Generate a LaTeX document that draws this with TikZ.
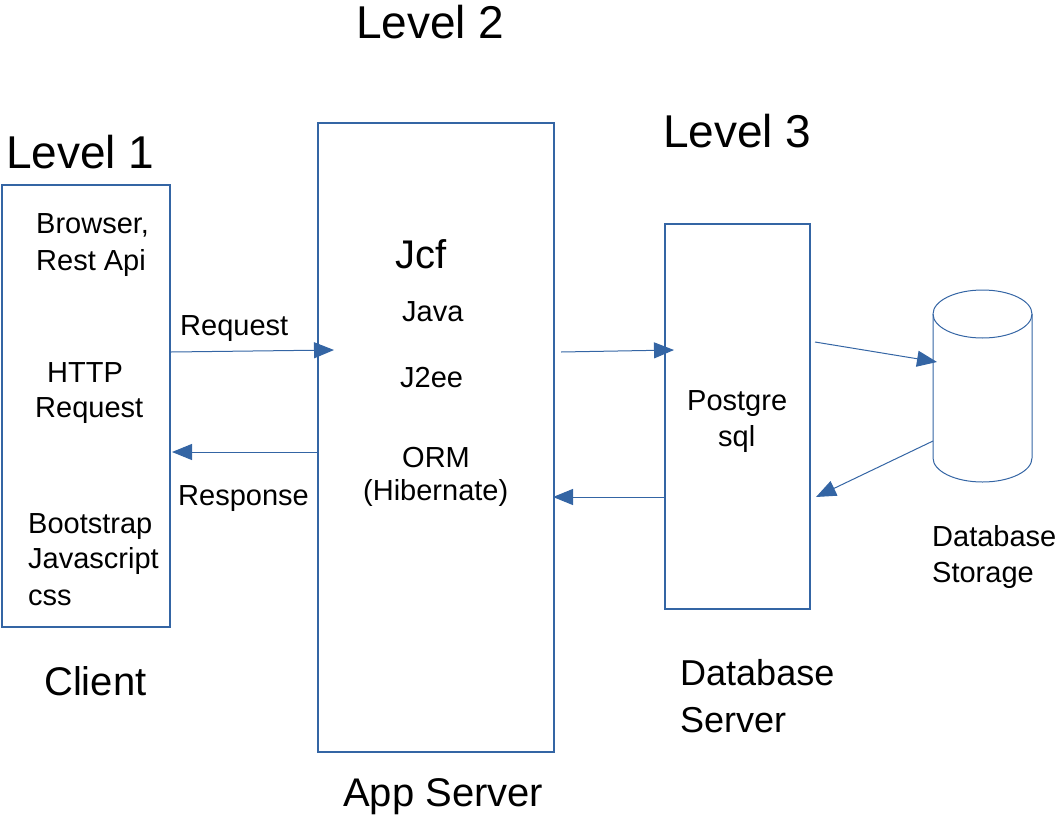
\documentclass[tikz,border=0pt]{standalone}
\usepackage{fontspec}
\setmainfont{Liberation Sans}
\usetikzlibrary{arrows.meta}
\definecolor{lineblue}{HTML}{3465A4}
\begin{document}
\begin{tikzpicture}[x=1pt,y=-1pt,
  box/.style={draw=lineblue, line width=1.1pt, inner sep=0pt},
  txt/.style={inner sep=0pt, anchor=base west, font=\fontsize{29}{35}\selectfont},
  midtxt/.style={inner sep=0pt, anchor=base west, font=\fontsize{36}{43}\selectfont},
  captxt/.style={inner sep=0pt, anchor=base west, font=\fontsize{40}{48}\selectfont},
  bigtxt/.style={inner sep=0pt, anchor=base west, font=\fontsize{46}{55}\selectfont},
  arr/.style={draw=lineblue, line width=1pt, -{Triangle[length=20pt,width=16pt]}}]
\useasboundingbox (0,0) rectangle (1056,816);

% boxes
\node[box, minimum width=168pt, minimum height=442pt] (client) at (86,406) {};
\node[box, minimum width=236pt, minimum height=629pt] (app) at (436,437.5) {};
\node[box, minimum width=145pt, minimum height=385pt] (db) at (737.5,416.5) {};

% cylinder (database storage)
\draw[lineblue, line width=1pt] (982.5,314) ellipse [x radius=49.5, y radius=24];
\draw[lineblue, line width=1pt] (933,314) -- (933,458) arc[start angle=180, end angle=0, x radius=49.5, y radius=24] -- (1032,314);
\coordinate (stin) at (937,362);
\coordinate (stout) at (933,441);

% titles
\node[bigtxt] (lv2) at (356,38) {Level 2};
\node[bigtxt] (lv1) at (6,168) {Level 1};
\node[bigtxt] (lv3) at (663,147) {Level 3};
\node[captxt] (clientlbl) at (44,695) {Client};
\node[captxt] (applbl) at (343,806) {App Server};
\node[midtxt] (dbs1) at (680,685) {Database};
\node[midtxt] (dbs2) at (680,732) {Server};
\node[txt] (sto1) at (932,546) {Database};
\node[txt] (sto2) at (932,582) {Storage};

% client texts
\node[txt] (c1) at (36,233) {Browser,};
\node[txt] (c2) at (36,270) {Rest Api};
\node[txt] (c3) at (47,382) {HTTP};
\node[txt] (c4) at (35,417) {Request};
\node[txt] (c5) at (28,533) {Bootstrap};
\node[txt] (c6) at (28,568) {Javascript};
\node[txt] (c7) at (28,605) {css};

% app texts
\node[captxt] (jcf) at (395,268) {Jcf};
\node[txt] (a1) at (402,321) {Java};
\node[txt] (a2) at (400,387) {J2ee};
\node[txt] (a3) at (402,467) {ORM};
\node[txt] (a4) at (363,500) {(Hibernate)};

% db texts
\node[txt] (d1) at (687,410) {Postgre};
\node[txt] (d2) at (718,446) {sql};

% arrow labels
\node[txt] (reqlbl) at (180,335) {Request};
\node[txt] (reslbl) at (178,505) {Response};

% connectors
\coordinate (reqs) at (171,352);
\coordinate (reqe) at (334,350);
\coordinate (ress) at (317,452);
\coordinate (rese) at (172,452);
\coordinate (q2s) at (561,352);
\coordinate (q2e) at (674,350);
\coordinate (r2s) at (664,497);
\coordinate (r2e) at (553,497);
\coordinate (q3s) at (815,342);
\coordinate (r3e) at (816,497);

\draw[arr] (reqs) -- (reqe);
\draw[arr] (ress) -- (rese);
\draw[arr] (q2s) -- (q2e);
\draw[arr] (r2s) -- (r2e);
\draw[arr] (q3s) -- (stin);
\draw[arr] (stout) -- (r3e);
\end{tikzpicture}
\end{document}
